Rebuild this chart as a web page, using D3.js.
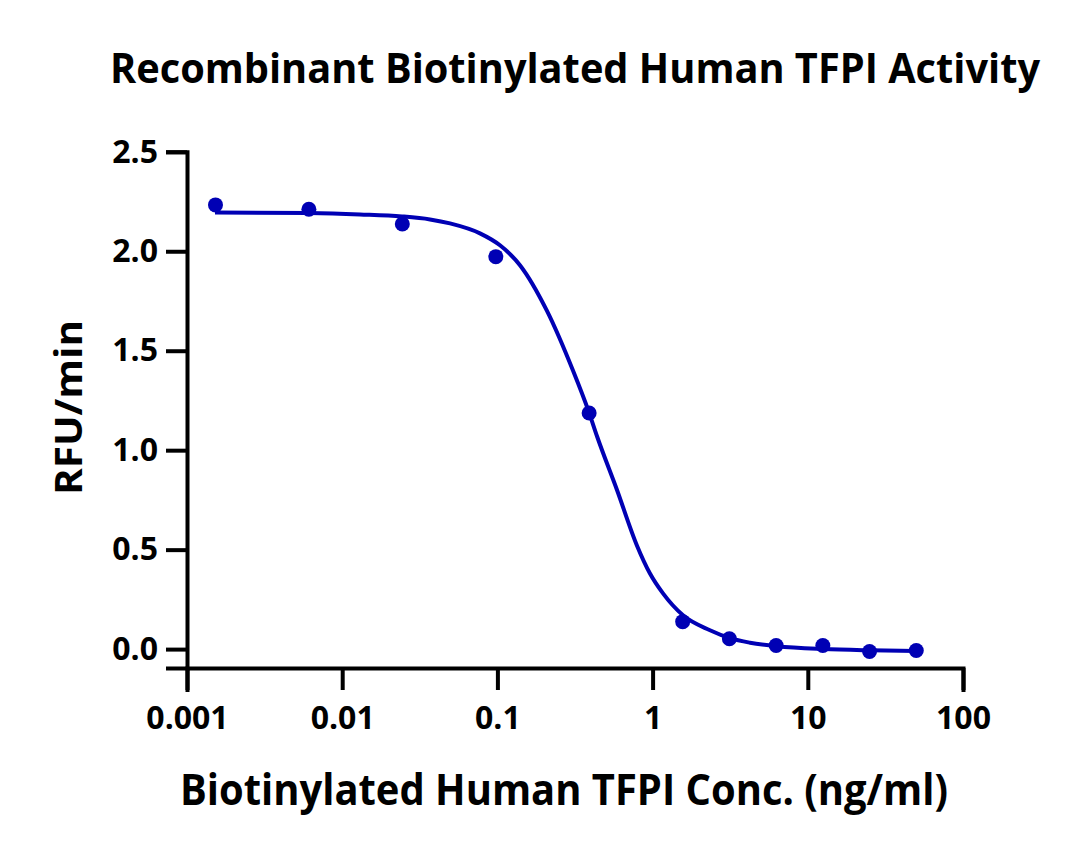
<!DOCTYPE html>
<html>
<head>
<meta charset="utf-8">
<script src="https://cdn.jsdelivr.net/npm/d3@7"></script>
<style>
  html, body { margin: 0; padding: 0; background: #fff; }
  svg { display: block; }
  text { font-family: "Open Sans", Lato, sans-serif; font-weight: 700; fill: #000; }
</style>
</head>
<body>
<svg id="chart" width="1080" height="854"></svg>
<script>
// ---- data ----
const concentrations = [0.001526, 0.0061, 0.0244, 0.0977, 0.39, 1.5625, 3.125, 6.25, 12.5, 25, 50];
const rfuValues      = [2.233, 2.211, 2.137, 1.973, 1.187, 0.138, 0.052, 0.018, 0.018, -0.012, -0.007];

// fitted curve
const curveConc = [0.001515, 0.00611, 0.01303, 0.0243, 0.0368, 0.0495, 0.0772, 0.1039, 0.1398, 0.2087,
                   0.3069, 0.389, 0.4384, 0.5897, 0.7935, 0.962, 1.167, 1.57, 2.343, 3.153, 4.243, 6.331,
                   12.53, 25.17, 49.8];
const curveRfu  = [2.195, 2.192, 2.185, 2.175, 2.16, 2.14, 2.09, 2.03, 1.93, 1.70,
                   1.40, 1.19, 1.07, 0.80, 0.52, 0.38, 0.28, 0.17, 0.095, 0.055, 0.032, 0.014,
                   0.0, -0.006, -0.009];

const xTickValues = [0.001, 0.01, 0.1, 1, 10, 100];
const xTickLabels = ["0.001", "0.01", "0.1", "1", "10", "100"];
const yTickValues = [0, 0.5, 1.0, 1.5, 2.0, 2.5];
const yTickLabels = ["0.0", "0.5", "1.0", "1.5", "2.0", "2.5"];

const titleText = "Recombinant Biotinylated Human TFPI Activity";
const xTitle = "Biotinylated Human TFPI Conc. (ng/ml)";
const yTitle = "RFU/min";

// ---- layout ----
const svg = d3.select("#chart");
const color = "#0000b4";
const fontFam = "'Open Sans', Lato, sans-serif";

const x = d3.scaleLog().domain([0.001, 100]).range([187, 963]);
const y = d3.scaleLinear().domain([-0.095, 2.5]).range([668, 151.8]);

// x axis
const xAxis = d3.axisBottom(x)
  .tickValues(xTickValues)
  .tickFormat((d, i) => xTickLabels[i])
  .tickSizeOuter(0)
  .tickSize(22)
  .tickPadding(16);

const gx = svg.append("g").attr("transform", "translate(0,668)").call(xAxis);
gx.select(".domain").attr("stroke", "#000").attr("stroke-width", 4).attr("stroke-linecap", "square");
gx.selectAll(".tick line").attr("stroke", "#000").attr("stroke-width", 4);
gx.selectAll(".tick text").style("font-size", "32px").style("font-family", fontFam).style("font-weight", 700).attr("fill", "#000");

// y axis
const yAxis = d3.axisLeft(y)
  .tickValues(yTickValues)
  .tickFormat((d, i) => yTickLabels[i])
  .tickSizeOuter(0)
  .tickSize(21)
  .tickPadding(8);

const gy = svg.append("g").attr("transform", "translate(187,0)").call(yAxis);
gy.select(".domain").attr("stroke", "#000").attr("stroke-width", 4);
gy.selectAll(".tick line").attr("stroke", "#000").attr("stroke-width", 4);
gy.selectAll(".tick text").style("font-size", "32px").style("font-family", fontFam).style("font-weight", 700).attr("fill", "#000");

// fitted curve
const curveData = curveConc.map((c, i) => ({ c, v: curveRfu[i] }));
const line = d3.line()
  .x(d => x(d.c))
  .y(d => y(d.v))
  .curve(d3.curveMonotoneX);

svg.append("path")
  .datum(curveData)
  .attr("d", line)
  .attr("fill", "none")
  .attr("stroke", color)
  .attr("stroke-width", 4);

// data points
const pts = concentrations.map((c, i) => ({ c, v: rfuValues[i] }));
svg.append("g").selectAll("circle")
  .data(pts)
  .join("circle")
  .attr("cx", d => x(d.c))
  .attr("cy", d => y(d.v))
  .attr("r", 7.5)
  .attr("fill", color);

// titles
svg.append("text")
  .attr("x", 110).attr("y", 83)
  .attr("textLength", 930).attr("lengthAdjust", "spacingAndGlyphs")
  .style("font-size", "41px")
  .text(titleText);

svg.append("text")
  .attr("x", 180).attr("y", 805)
  .attr("textLength", 768).attr("lengthAdjust", "spacingAndGlyphs")
  .style("font-size", "43px")
  .text(xTitle);

svg.append("text")
  .attr("transform", "translate(82,495) rotate(-90)")
  .attr("textLength", 175).attr("lengthAdjust", "spacingAndGlyphs")
  .style("font-size", "38px")
  .text(yTitle);
</script>
</body>
</html>
